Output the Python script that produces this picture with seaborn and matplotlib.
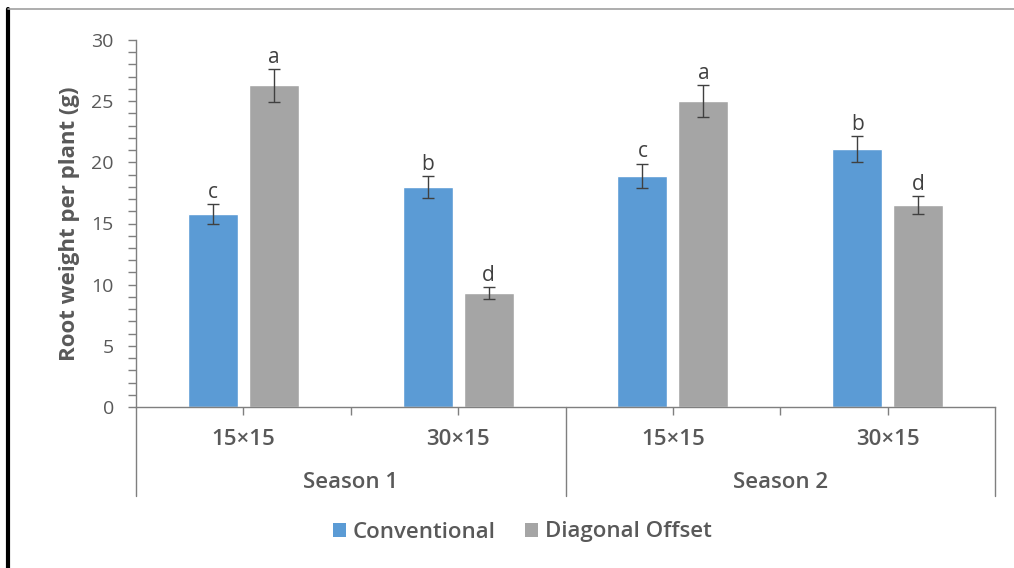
import matplotlib
matplotlib.use("Agg")
import matplotlib.pyplot as plt
from matplotlib.lines import Line2D
from matplotlib.patches import Patch
from matplotlib.ticker import MultipleLocator, FixedLocator
import pandas as pd
import seaborn as sns

# Root weight per plant (g), two seasons x two spacings x two planting methods
seasons = ["Season 1", "Season 1", "Season 2", "Season 2"]
spacings = ["15×15", "30×15", "15×15", "30×15"]
methods = ["Conventional", "Diagonal Offset"]
conventional = [15.8, 18.0, 18.9, 21.1]
diagonal = [26.3, 9.3, 25.0, 16.5]
conventional_err = [0.8, 0.9, 1.0, 1.05]
diagonal_err = [1.35, 0.5, 1.3, 0.75]
conventional_letters = ["c", "b", "c", "b"]
diagonal_letters = ["a", "d", "a", "d"]

groups = [f"{s}|{p}" for s, p in zip(seasons, spacings)]
df = pd.DataFrame({
    "group": groups * 2,
    "method": [methods[0]] * 4 + [methods[1]] * 4,
    "value": conventional + diagonal,
    "err": conventional_err + diagonal_err,
    "letter": conventional_letters + diagonal_letters,
})

sns.set_theme(style="white")
plt.rcParams["font.family"] = ["Open Sans", "DejaVu Sans"]

BLUE = "#5B9BD5"
GREY = "#A5A5A5"
TEXT = "#595959"
AXIS = "#7F7F7F"

fig = plt.figure(figsize=(10.14, 5.68), dpi=100)
ax = fig.add_axes([136 / 1014, 1 - 407 / 568, (995 - 136) / 1014, (407 - 40) / 568])

sns.barplot(data=df, x="group", y="value", hue="method", order=groups,
            hue_order=methods, palette=[BLUE, GREY], width=0.567, gap=0.18,
            errorbar=None, legend=False, ax=ax, saturation=1)

# error bars and significance letters placed on the drawn bars
bars = [p for p in ax.patches if p.get_height() > 0]
bars.sort(key=lambda p: p.get_x())
ordered = []
for g in groups:
    for m in methods:
        ordered.append(df[(df.group == g) & (df.method == m)].iloc[0])
for bar, row in zip(bars, ordered):
    cx = bar.get_x() + bar.get_width() / 2
    ax.errorbar(cx, row.value, yerr=row.err, fmt="none", ecolor="#404040",
                elinewidth=1.0, capsize=4.5, capthick=1.0, zorder=3)
    ax.text(cx, row.value + row.err + 0.1, row.letter, ha="center",
            va="bottom", fontsize=15, color="#404040")

ax.set_ylim(0, 30)
ax.set_xlim(-0.5, 3.5)
ax.yaxis.set_major_locator(MultipleLocator(5))
ax.yaxis.set_minor_locator(MultipleLocator(1))
ax.tick_params(axis="y", which="both", left=True, length=6, width=1,
               color=AXIS, labelsize=14, labelcolor=TEXT, pad=10)
ax.set_ylabel("Root weight per plant (g)", fontsize=16, fontweight="bold",
              color=TEXT, labelpad=8)
ax.set_xlabel("")

ax.set_xticks(range(4))
ax.set_xticklabels(spacings, fontweight="semibold")
ax.xaxis.set_minor_locator(FixedLocator([0.5, 2.5]))
ax.tick_params(axis="x", which="both", bottom=True, length=6, width=1,
               color=AXIS, labelsize=16, labelcolor=TEXT, pad=10)

for side in ["top", "right"]:
    ax.spines[side].set_visible(False)
for side in ["left", "bottom"]:
    ax.spines[side].set_color(AXIS)
    ax.spines[side].set_linewidth(1.0)

# season group separators and labels below the category axis
for xb in [-0.5, 1.5, 3.5]:
    ax.add_line(Line2D([xb, xb], [0, -7.3], color=AXIS, lw=1.0,
                       clip_on=False))
for i, s in enumerate(["Season 1", "Season 2"]):
    ax.text(2 * i + 0.5, -6.2, s, ha="center", va="center", fontsize=16,
            fontweight="semibold", color=TEXT, clip_on=False)

handles = [Patch(facecolor=BLUE, edgecolor="none"),
           Patch(facecolor=GREY, edgecolor="none")]
fig.legend(handles, methods, loc="center", bbox_to_anchor=(522 / 1014, 1 - 532 / 568),
           ncol=2, frameon=False, prop={"size": 16, "weight": "semibold"},
           handlelength=0.6, handleheight=0.6, handletextpad=0.3,
           columnspacing=1.3, labelcolor=TEXT)

# outer frame lines
fig.add_artist(Line2D([8 / 1014, 8 / 1014], [0, 1 - 9 / 568], color="black",
                      lw=3, transform=fig.transFigure))
fig.add_artist(Line2D([8 / 1014, 1], [1 - 9 / 568, 1 - 9 / 568],
                      color="#A0A0A0", lw=1.2, transform=fig.transFigure))

fig.savefig("out.png", dpi=100)
